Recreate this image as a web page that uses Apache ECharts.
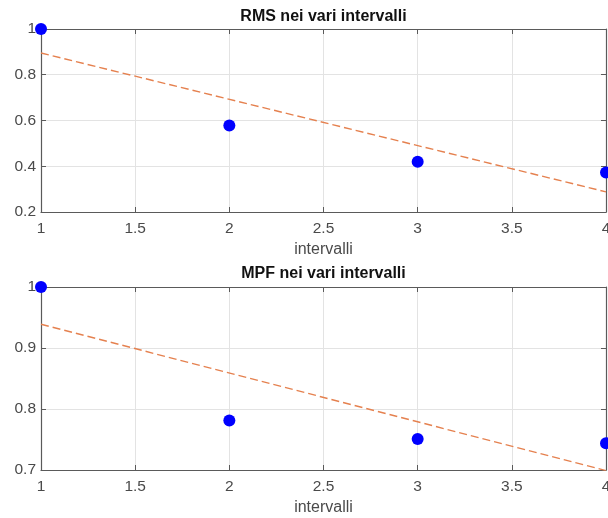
<!DOCTYPE html>
<html><head><meta charset="utf-8">
<script src="https://cdn.jsdelivr.net/npm/echarts@6/dist/echarts.min.js"></script>
<style>html,body{margin:0;padding:0;background:#fff}#c{width:608px;height:518px}</style>
</head><body><div id="c"></div>
<script>
const intervals = [1, 2, 3, 4];
const rmsValues = [1.0, 0.578, 0.42, 0.373];
const mpfValues = [1.0, 0.781, 0.751, 0.744];
const rmsTrendX = [1, 4];
const rmsTrendY = [0.895, 0.288];
const mpfTrendX = [1, 4];
const mpfTrendY = [0.939, 0.699];
const xTicks = [1, 1.5, 2, 2.5, 3, 3.5, 4];
const rmsYTicks = [0.2, 0.4, 0.6, 0.8, 1];
const mpfYTicks = [0.7, 0.8, 0.9, 1];
const titles = ['RMS nei vari intervalli', 'MPF nei vari intervalli'];
const xName = 'intervalli';

const FONT = '"Liberation Sans", Arial, Helvetica, sans-serif';
const LBL = '#4a4a4a';
const AX = '#5a5a5a';
const GRIDC = '#e3e3e3';

function fmt(v){ return String(+v.toFixed(2)); }

const grids = [
  {left: 41, right: 2, top: 29, height: 183, containLabel: false, outerBoundsMode: 'none'},
  {left: 41, right: 2, top: 287, height: 183, containLabel: false, outerBoundsMode: 'none'}
];

function xMain(gi){
  return {type:'value', gridIndex: gi, min: 1, max: 4, interval: 0.5, position:'bottom',
    name: xName, nameLocation:'middle', nameGap: 30,
    nameTextStyle:{color: LBL, fontSize: 16, fontFamily: FONT},
    axisLine:{show:true, onZero:false, lineStyle:{color: AX, width: 1.2}},
    axisTick:{show:true, inside:true, length:5, lineStyle:{color: AX}},
    axisLabel:{color: LBL, fontSize: 15.5, fontFamily: FONT, margin: 9, formatter: fmt, hideOverlap: false},
    splitLine:{show:true, lineStyle:{color: GRIDC, width: 1}}};
}
function xTop(gi){
  return {type:'value', gridIndex: gi, min: 1, max: 4, interval: 0.5, position:'top',
    axisLine:{show:true, onZero:false, lineStyle:{color: AX, width: 1.2}},
    axisTick:{show:true, inside:true, length:5, lineStyle:{color: AX}},
    axisLabel:{show:false}, splitLine:{show:false}};
}
function yMain(gi, mn, mx, iv){
  return {type:'value', gridIndex: gi, min: mn, max: mx, interval: iv, position:'left',
    axisLine:{show:true, onZero:false, lineStyle:{color: AX, width: 1.2}},
    axisTick:{show:true, inside:true, length:5, lineStyle:{color: AX}},
    axisLabel:{color: LBL, fontSize: 15.5, fontFamily: FONT, margin: 5, formatter: fmt},
    splitLine:{show:true, lineStyle:{color: GRIDC, width: 1}}};
}
function yRight(gi, mn, mx, iv){
  return {type:'value', gridIndex: gi, min: mn, max: mx, interval: iv, position:'right',
    axisLine:{show:true, onZero:false, lineStyle:{color: AX, width: 1.2}},
    axisTick:{show:true, inside:true, length:5, lineStyle:{color: AX}},
    axisLabel:{show:false}, splitLine:{show:false}};
}

const chart = echarts.init(document.getElementById('c'), null, {renderer:'canvas'});
chart.setOption({
  animation: false,
  backgroundColor: '#fff',
  title: titles.map((t, i) => ({
    text: t, left: 323.5, textAlign: 'center', top: i === 0 ? 9 : 266, padding: 0,
    textStyle: {fontSize: 16, fontWeight: 'bold', color: '#111', fontFamily: FONT, lineHeight: 16}
  })),
  grid: grids,
  xAxis: [xMain(0), xTop(0), xMain(1), xTop(1)],
  yAxis: [yMain(0, 0.2, 1, 0.2), yRight(0, 0.2, 1, 0.2), yMain(1, 0.7, 1, 0.1), yRight(1, 0.7, 1, 0.1)],
  series: [
    {type:'line', xAxisIndex:0, yAxisIndex:0, data: rmsTrendX.map((x,i)=>[x, rmsTrendY[i]]),
      showSymbol:false, symbol:'none', lineStyle:{color:'#e5814f', width:1.4, type:[8,4]}, z:2},
    {type:'scatter', xAxisIndex:0, yAxisIndex:0, data: intervals.map((x,i)=>[x, rmsValues[i]]),
      symbol:'circle', symbolSize: 12, itemStyle:{color:'#0000ff', opacity: 1}, clip:false, z:3},
    {type:'line', xAxisIndex:2, yAxisIndex:2, data: mpfTrendX.map((x,i)=>[x, mpfTrendY[i]]),
      showSymbol:false, symbol:'none', lineStyle:{color:'#e5814f', width:1.4, type:[8,4]}, z:2},
    {type:'scatter', xAxisIndex:2, yAxisIndex:2, data: intervals.map((x,i)=>[x, mpfValues[i]]),
      symbol:'circle', symbolSize: 12, itemStyle:{color:'#0000ff', opacity: 1}, clip:false, z:3}
  ]
});
</script></body></html>
